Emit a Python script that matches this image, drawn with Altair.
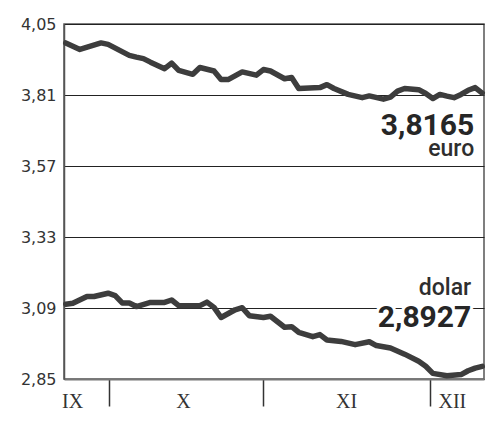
import altair as alt
import pandas as pd

# --- data ---
euro_days = [0, 2, 5, 6, 9, 10, 11, 12, 14, 15, 16, 18, 19, 21, 22, 23, 25, 27, 28, 29,
             31, 32, 33, 36, 37, 38, 40, 42, 43, 45, 46, 47, 48, 50, 51, 52, 53, 54, 55, 56,
             57, 58, 59]
euro_vals = [3.986, 3.964, 3.986, 3.981, 3.944, 3.938, 3.933, 3.921, 3.899, 3.918,
             3.893, 3.880, 3.903, 3.891, 3.862, 3.862, 3.888, 3.877, 3.896, 3.891,
             3.865, 3.869, 3.832, 3.835, 3.845, 3.832, 3.812, 3.801, 3.807, 3.796,
             3.803, 3.823, 3.832, 3.828, 3.815, 3.798, 3.812, 3.806, 3.801, 3.812,
             3.826, 3.835, 3.8165]

usd_days = [0, 1, 3, 4, 6, 7, 8, 9, 10, 12, 14, 15, 16, 19, 20, 21, 22, 24, 25, 26,
            28, 29, 31, 32, 33, 35, 36, 37, 39, 41, 43, 44, 46, 48, 50, 51, 52, 54, 56, 57,
            58, 59]
usd_vals = [3.103, 3.106, 3.129, 3.129, 3.140, 3.132, 3.107, 3.107, 3.095, 3.109,
            3.109, 3.117, 3.098, 3.098, 3.110, 3.092, 3.058, 3.084, 3.091, 3.064,
            3.058, 3.062, 3.025, 3.027, 3.008, 2.993, 3.000, 2.982, 2.977, 2.966,
            2.976, 2.963, 2.955, 2.934, 2.910, 2.893, 2.869, 2.861, 2.865, 2.878,
            2.887, 2.8927]

y_ticks = [2.85, 3.09, 3.33, 3.57, 3.81, 4.05]
month_bounds = [6.18, 27.9, 51.6]
month_mids = [0.9, 16.6, 39.7, 54.7]
month_names = ["IX", "X", "XI", "XII"]

rows = [{"series": "euro", "day": d, "value": v} for d, v in zip(euro_days, euro_vals)]
rows += [{"series": "dolar", "day": d, "value": v} for d, v in zip(usd_days, usd_vals)]
df = pd.DataFrame(rows)

def fmt(v):
    return f"{v:.4f}".replace(".", ",")

labels = pd.DataFrame([
    {"series": "euro", "day": euro_days[-1], "value": euro_vals[-1], "num": fmt(euro_vals[-1])},
    {"series": "dolar", "day": usd_days[-1], "value": usd_vals[-1], "num": fmt(usd_vals[-1])},
])

x_scale = alt.Scale(domain=[-0.25, 59.25], nice=False, zero=False)
y_scale = alt.Scale(domain=[2.85, 4.05], nice=False, zero=False)

label_expr = " : ".join(
    [f"datum.value == {m} ? '{n}'" for m, n in zip(month_mids, month_names)]
) + " : ''"
tick_test = "indexof([" + ",".join(str(b) for b in month_bounds) + "], datum.value) >= 0"

x_axis = alt.Axis(
    values=month_bounds + month_mids,
    title=None,
    grid=False,
    domainColor="#777777",
    domainWidth=2,
    tickSize=27,
    tickColor="#333333",
    tickWidth=1.5,
    tickOpacity={"condition": {"test": tick_test, "value": 1}, "value": 0},
    labelExpr=label_expr,
    labelFont="Liberation Serif",
    labelFontSize=20,
    labelColor="#333333",
    labelPadding=-15,
    labelOverlap=False,
    labelFlush=False,
)
y_axis = alt.Axis(
    values=y_ticks,
    title=None,
    grid=True,
    gridColor="#222222",
    gridWidth=1,
    ticks=False,
    domainColor="#555555",
    domainWidth=1.5,
    labelExpr="replace(format(datum.value, '.2f'), '.', ',')",
    labelFont="DejaVu Sans",
    labelFontSize=16,
    labelColor="#333333",
    labelPadding=8,
)

X = alt.X("day:Q", scale=x_scale, axis=x_axis)
Y = alt.Y("value:Q", scale=y_scale, axis=y_axis)

lines = alt.Chart(df).mark_line(
    color="#3d3d3d", strokeWidth=5.5, strokeJoin="round", strokeCap="round"
).encode(x=X, y=Y, detail="series:N")

base = alt.Chart(labels).encode(x=X, y=Y)

euro_lab = base.transform_filter("datum.series == 'euro'")
usd_lab = base.transform_filter("datum.series == 'dolar'")

euro_num = euro_lab.mark_text(
    align="right", baseline="alphabetic", dx=-8, dy=42,
    font="Roboto", fontSize=30, fontWeight="bold", color="#262626"
).encode(text="num:N")
euro_name = euro_lab.mark_text(
    align="right", baseline="alphabetic", dx=-8, dy=63,
    font="Roboto", fontSize=23, fontWeight=500, color="#2e2e2e"
).encode(text="series:N")

usd_bg = usd_lab.mark_text(
    align="right", baseline="alphabetic", dx=-11, dy=-39,
    font="Roboto", fontSize=30, fontWeight="bold", color="white",
    stroke="white", strokeWidth=6
).encode(text="num:N")
usd_num = usd_lab.mark_text(
    align="right", baseline="alphabetic", dx=-11, dy=-39,
    font="Roboto", fontSize=30, fontWeight="bold", color="#262626"
).encode(text="num:N")
usd_name = usd_lab.mark_text(
    align="right", baseline="alphabetic", dx=-11, dy=-71,
    font="Roboto", fontSize=23, fontWeight=500, color="#2e2e2e"
).encode(text="series:N")

chart = alt.layer(lines, usd_bg, euro_num, euro_name, usd_num, usd_name).properties(
    width=420,
    height=355,
    autosize=alt.AutoSizeParams(type="none"),
    padding={"left": 56, "top": 16, "right": 8, "bottom": 36},
    background="white",
).configure_view(
    stroke="#555555", strokeWidth=1.5
)

chart.save("out.html", embed_options={"renderer": "svg", "actions": False})
